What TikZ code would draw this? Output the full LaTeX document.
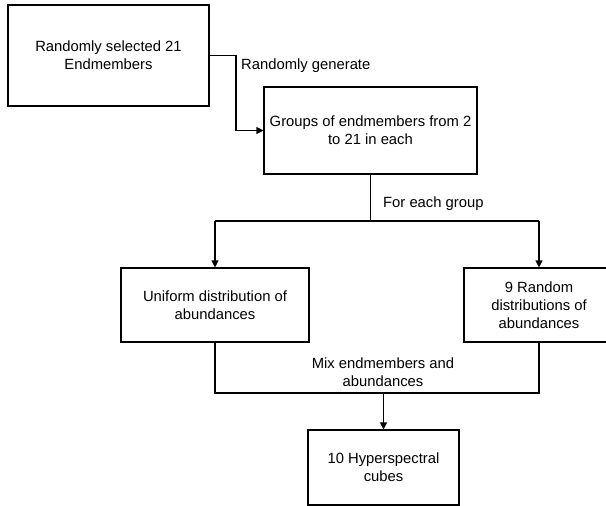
\documentclass[tikz,border=0pt]{standalone}
\usepackage{fontspec}
\setmainfont{Liberation Sans}
\usetikzlibrary{arrows.meta}
\begin{document}
\begin{tikzpicture}[x = 1pt, y = -1pt,
    box/.style = {draw, line width = 1.1pt, align = center, inner sep = 0pt,
      font = \fontsize{14.8}{18}\selectfont},
    lbl/.style = {align = center, inner sep = 0pt, font = \fontsize{14.8}{18}\selectfont},
    link/.style = {line width = 1.1pt},
    arr/.style = {link, -{Triangle[length = 7pt, width = 7pt]}}]
  \useasboundingbox (0, 0) rectangle (606, 506);
  % boxes
  \node[box, minimum width = 201pt, minimum height = 101pt] (sel) at (108.5, 55.5) {Randomly selected 21\\Endmembers};
  \node[box, minimum width = 213pt, minimum height = 87pt] (grp) at (370.5, 130.5) {Groups of endmembers from 2\\to 21 in each};
  \node[box, minimum width = 188pt, minimum height = 74pt] (unif) at (215, 305) {Uniform distribution of\\abundances};
  \node[box, minimum width = 150pt, minimum height = 74pt] (rnd) at (539, 305) {9 Random\\distributions of\\abundances};
  \node[box, minimum width = 151pt, minimum height = 75pt] (cube) at (383.5, 467.5) {10 Hyperspectral\\cubes};
  % helper points
  \coordinate (bend) at (236, 0);
  \coordinate (split) at (0, 221);
  \coordinate (merge) at (0, 393);
  % connectors
  \draw[arr] (sel.east) -| (bend |- grp.west) -- (grp.west);
  \draw[link] (grp.south) -- (grp.south |- split);
  \draw[arr] (unif.north |- split) -- (unif.north);
  \draw[arr] (rnd.north |- split) -- (rnd.north);
  \draw[link] (unif.north |- split) -- (rnd.north |- split);
  \draw[link] (unif.south) -- (unif.south |- merge) -- (rnd.south |- merge) -- (rnd.south);
  \draw[arr] (cube.north |- merge) -- (cube.north);
  % labels
  \node[lbl, anchor = west] (gen) at (241, 66) {Randomly generate};
  \node[lbl, anchor = west] (each) at (383, 204) {For each group};
  \node[lbl] (mix) at (383, 372) {Mix endmembers and\\abundances};
\end{tikzpicture}
\end{document}
